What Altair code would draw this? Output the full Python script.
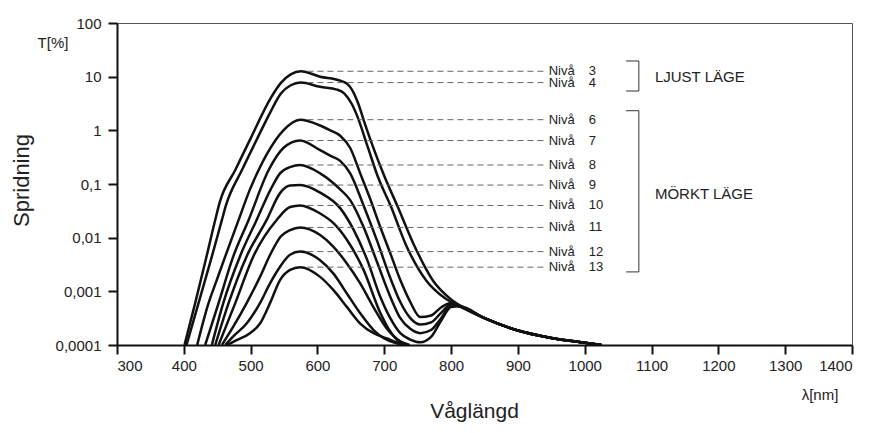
import altair as alt
import pandas as pd

# ---------------- data ----------------
LEVELS = [3, 4, 6, 7, 8, 9, 10, 11, 12, 13]

L3_WL = [401, 417, 434, 447, 454, 477, 500, 530, 545, 560, 575, 604, 634, 645, 652, 661, 671, 680, 700, 720, 745, 773, 800, 828]
L3_T = [1e-4, 6.03e-4, 4.47e-3, 2.14e-2, 4.68e-2, 0.182, 0.708, 3.98, 7.59, 11.0, 12.6, 10.0, 8.41, 7.24, 5.62, 3.16, 1.32, 0.631, 0.141, 0.038, 7.08e-3, 1.58e-3, 7.08e-4, 4.37e-4]

L4_WL = [404, 422, 442, 457, 463, 487, 510, 530, 545, 560, 575, 604, 629, 640, 651, 660, 675, 690, 710, 733, 763, 790, 813]
L4_T = [1e-4, 6.03e-4, 4.47e-3, 2.14e-2, 3.98e-2, 0.182, 0.708, 2.24, 4.79, 6.92, 7.76, 6.46, 5.75, 4.9, 3.16, 1.78, 0.501, 0.141, 0.038, 7.08e-3, 1.58e-3, 7.59e-4, 5.25e-4]

L6_WL = [420, 437, 449, 462, 482, 499, 512, 524, 549, 574, 604, 619, 634, 649, 664, 679, 694, 709, 724, 739, 754, 770, 785, 800, 813]
L6_T = [1e-4, 6.03e-4, 1.58e-3, 4.47e-3, 2.14e-2, 7.94e-2, 0.182, 0.355, 1.0, 1.58, 1.23, 1.0, 0.794, 0.468, 0.158, 0.0525, 0.0158, 5.13e-3, 1.62e-3, 6.31e-4, 3.31e-4, 3.55e-4, 5.01e-4, 6.03e-4, 5.25e-4]

L7_WL = [432, 452, 474, 497, 527, 549, 574, 604, 619, 634, 649, 669, 689, 709, 724, 739, 754, 770, 785, 800, 813]
L7_T = [1e-4, 6.03e-4, 4.47e-3, 2.14e-2, 0.182, 0.468, 0.646, 0.427, 0.339, 0.269, 0.158, 0.0398, 8.91e-3, 1.78e-3, 6.31e-4, 3.16e-4, 2.4e-4, 2.63e-4, 3.98e-4, 5.75e-4, 5.25e-4]

L8_WL = [442, 459, 484, 509, 530, 544, 560, 574, 604, 634, 649, 669, 689, 709, 724, 739, 754, 770, 785, 800, 813]
L8_T = [1e-4, 6.03e-4, 4.47e-3, 2.14e-2, 7.94e-2, 0.158, 0.209, 0.226, 0.158, 0.0794, 0.0501, 0.0158, 3.55e-3, 7.94e-4, 3.16e-4, 2.0e-4, 1.66e-4, 1.9e-4, 3.16e-4, 5.5e-4, 5.25e-4]

L9_WL = [447, 467, 494, 524, 544, 559, 574, 604, 634, 654, 674, 694, 709, 724, 739, 754, 770, 785, 800, 813]
L9_T = [1e-4, 6.03e-4, 4.47e-3, 2.14e-2, 6.76e-2, 9.33e-2, 9.55e-2, 6.92e-2, 3.55e-2, 1.41e-2, 3.98e-3, 7.94e-4, 3.16e-4, 1.66e-4, 1.26e-4, 1.12e-4, 1.41e-4, 2.82e-4, 5.13e-4, 5.25e-4]

L10_WL = [452, 477, 504, 539, 559, 574, 604, 624, 644, 669, 694, 709, 724, 735]
L10_T = [1e-4, 6.03e-4, 4.47e-3, 2.14e-2, 3.72e-2, 3.98e-2, 2.82e-2, 1.86e-2, 9.12e-3, 2.51e-3, 3.98e-4, 1.78e-4, 1.12e-4, 1e-4]

L11_WL = [457, 474, 494, 514, 530, 545, 559, 574, 604, 624, 644, 664, 684, 704, 724, 738]
L11_T = [1e-4, 2.19e-4, 6.03e-4, 1.86e-3, 5.01e-3, 1.05e-2, 1.38e-2, 1.55e-2, 1.12e-2, 6.76e-3, 3.31e-3, 1.41e-3, 5.01e-4, 2.0e-4, 1.17e-4, 1e-4]

L12_WL = [462, 474, 494, 514, 529, 544, 559, 574, 604, 624, 644, 664, 684, 700, 720, 735]
L12_T = [1e-4, 1.45e-4, 2.51e-4, 6.03e-4, 1.41e-3, 2.88e-3, 4.79e-3, 5.5e-3, 3.8e-3, 2.14e-3, 9.12e-4, 3.89e-4, 1.9e-4, 1.32e-4, 1.07e-4, 1e-4]

L13_WL = [465, 479, 499, 514, 529, 544, 559, 574, 604, 624, 644, 664, 684, 704, 720, 730]
L13_T = [1e-4, 1.23e-4, 1.66e-4, 2.51e-4, 6.03e-4, 1.62e-3, 2.51e-3, 2.82e-3, 1.86e-3, 1.05e-3, 5.13e-4, 2.51e-4, 1.66e-4, 1.32e-4, 1.1e-4, 1e-4]

# common long-wavelength tail shared by levels 3-9
TAIL_WL = [850, 900, 950, 1000, 1025]
TAIL_T = [3.16e-4, 1.86e-4, 1.35e-4, 1.1e-4, 1e-4]
TAIL_LEVELS = [3, 4, 6, 7, 8, 9]

# peak heights (leader lines and labels)
PEAK_T = [12.6, 7.76, 1.58, 0.646, 0.226, 0.0955, 0.0398, 0.0155, 0.0055, 0.00282]
LEADER_START = 585
LEADER_END = 940
LABEL_WORD_X = 946
LABEL_NUM_X = 1006

# brackets
BRACKET_NAMES = ["LJUST LÄGE", "MÖRKT LÄGE"]
BRACKET_TOP = [19.6, 2.32]
BRACKET_BOTTOM = [5.4, 0.0023]
BRACKET_TEXT_Y = [9.8, 0.065]
BRACKET_X = 1081
BRACKET_TICK_X = 1062
BRACKET_TEXT_X = 1105

X_TICKS = list(range(300, 1401, 100))
Y_TICKS = [0.0001, 0.001, 0.01, 0.1, 1, 10, 100]

FONT = "Liberation Sans, Arial, Helvetica, sans-serif"

# ---------------- tables ----------------
series = {
    3: (L3_WL, L3_T), 4: (L4_WL, L4_T), 6: (L6_WL, L6_T), 7: (L7_WL, L7_T),
    8: (L8_WL, L8_T), 9: (L9_WL, L9_T), 10: (L10_WL, L10_T), 11: (L11_WL, L11_T),
    12: (L12_WL, L12_T), 13: (L13_WL, L13_T),
}
rows = []
for lvl in LEVELS:
    wl, t = series[lvl]
    wl = list(wl)
    t = list(t)
    if lvl in TAIL_LEVELS:
        wl += TAIL_WL
        t += TAIL_T
    for w, v in zip(wl, t):
        rows.append({"level": lvl, "wl": w, "T": v})
curves = pd.DataFrame(rows)

leaders = pd.DataFrame({
    "level": LEVELS,
    "T": PEAK_T,
    "x1": [LEADER_START] * len(LEVELS),
    "x2": [LEADER_END] * len(LEVELS),
    "word": ["Nivå"] * len(LEVELS),
    "wx": [LABEL_WORD_X] * len(LEVELS),
    "num": [str(l) for l in LEVELS],
    "nx": [LABEL_NUM_X] * len(LEVELS),
})

brackets = pd.DataFrame({
    "name": BRACKET_NAMES,
    "top": BRACKET_TOP,
    "bottom": BRACKET_BOTTOM,
    "ty": BRACKET_TEXT_Y,
    "bx": [BRACKET_X] * 2,
    "tx": [BRACKET_TICK_X] * 2,
    "lx": [BRACKET_TEXT_X] * 2,
})

xscale = alt.Scale(domain=[300, 1400], nice=False, zero=False)
yscale = alt.Scale(type="log", domain=[0.0001, 100], nice=False)

x_axis = alt.Axis(
    values=X_TICKS, format="d", grid=False, tickSize=9, tickWidth=2, tickColor="#111",
    domainColor="#111", domainWidth=2, labelFontSize=15, labelColor="#222",
    labelFont=FONT, labelPadding=4, title="Våglängd", titleFont=FONT,
    titleFontSize=21, titleFontWeight="normal", titleColor="#222",
    titleX=357, titleY=66, titleBaseline="middle", titleAlign="center",
)
y_axis = alt.Axis(
    values=Y_TICKS, grid=False, tickSize=9, tickWidth=2, tickColor="#111",
    domainColor="#111", domainWidth=2, labelFontSize=15, labelColor="#222",
    labelFont=FONT, labelPadding=7,
    labelExpr="datum.value >= 1 ? format(datum.value, 'd') : replace(format(datum.value, '.4~f'), '.', ',')",
    title="Spridning", titleFont=FONT, titleFontSize=22, titleFontWeight="normal",
    titleColor="#222", titleX=-96, titleY=157, titleAngle=270,
    titleBaseline="middle", titleAlign="center",
)

lines = alt.Chart(curves).mark_line(
    color="#111", strokeWidth=2.5, interpolate="monotone", clip=True
).encode(
    x=alt.X("wl:Q", scale=xscale, axis=x_axis),
    y=alt.Y("T:Q", scale=yscale, axis=y_axis),
    detail="level:N",
    order="wl:Q",
)

leader_rules = alt.Chart(leaders).mark_rule(
    color="#666", strokeWidth=1, strokeDash=[6, 4]
).encode(
    x=alt.X("x1:Q", scale=xscale), x2="x2:Q", y=alt.Y("T:Q", scale=yscale)
)

word_text = alt.Chart(leaders).mark_text(
    align="left", baseline="middle", font=FONT, fontSize=13, color="#222"
).encode(x=alt.X("wx:Q", scale=xscale), y=alt.Y("T:Q", scale=yscale), text="word:N")

num_text = alt.Chart(leaders).mark_text(
    align="left", baseline="middle", font=FONT, fontSize=13, color="#222"
).encode(x=alt.X("nx:Q", scale=xscale), y=alt.Y("T:Q", scale=yscale), text="num:N")

bracket_vert = alt.Chart(brackets).mark_rule(color="#333", strokeWidth=1).encode(
    x=alt.X("bx:Q", scale=xscale), y=alt.Y("top:Q", scale=yscale), y2="bottom:Q"
)
bracket_top = alt.Chart(brackets).mark_rule(color="#333", strokeWidth=1).encode(
    x=alt.X("tx:Q", scale=xscale), x2="bx:Q", y=alt.Y("top:Q", scale=yscale)
)
bracket_bot = alt.Chart(brackets).mark_rule(color="#333", strokeWidth=1).encode(
    x=alt.X("tx:Q", scale=xscale), x2="bx:Q", y=alt.Y("bottom:Q", scale=yscale)
)
bracket_text = alt.Chart(brackets).mark_text(
    align="left", baseline="middle", font=FONT, fontSize=15, color="#222"
).encode(x=alt.X("lx:Q", scale=xscale), y=alt.Y("ty:Q", scale=yscale), text="name:N")

t_label = alt.Chart(pd.DataFrame({"s": ["T[%]"]})).mark_text(
    align="center", baseline="middle", font=FONT, fontSize=15, color="#222"
).encode(x=alt.value(-64), y=alt.value(20), text="s:N")

nm_label = alt.Chart(pd.DataFrame({"s": ["λ[nm]"]})).mark_text(
    align="center", baseline="middle", font=FONT, fontSize=15, color="#222"
).encode(x=alt.value(703), y=alt.value(372), text="s:N")

chart = alt.layer(
    lines, leader_rules, word_text, num_text,
    bracket_vert, bracket_top, bracket_bot, bracket_text, t_label, nm_label,
).properties(
    width=735, height=322,
    autosize=alt.AutoSizeParams(type="none"),
    padding={"left": 109, "top": 15, "right": 12, "bottom": 80},
    background="white",
).configure_view(stroke="#555", strokeWidth=1)

chart.save("out.html", embed_options={"renderer": "svg", "actions": False})
